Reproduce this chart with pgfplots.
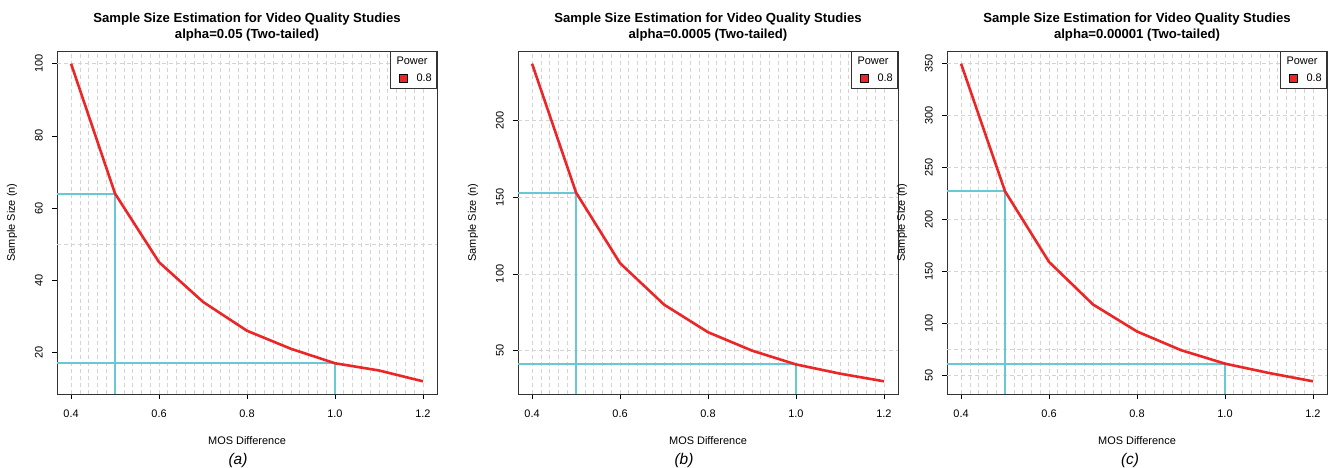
\documentclass[border=0pt]{standalone}
\usepackage{fontspec}
\setmainfont{Liberation Sans}
\usepackage{pgfplots}
\pgfplotsset{compat=1.18}
\definecolor{linered}{RGB}{236,38,38}
\definecolor{cyanl}{RGB}{104,200,214}
\definecolor{gridc}{RGB}{212,212,212}

\pgfplotsset{ssstyle/.style={
  width=380bp, height=343bp, scale only axis,
  anchor=south west,
  xmin=0.368, xmax=1.232,
  xtick={0.4,0.6,0.8,1.0,1.2},
  minor x tick num=9,
  xmajorgrids, xminorgrids,
  major grid style={gridc, dash pattern=on 4bp off 3bp, line width=0.7bp},
  minor grid style={gridc, dash pattern=on 4bp off 3bp, line width=0.7bp},
  minor tick length=0pt,
  tick align=outside, major tick length=5bp,
  tick style={black, line width=0.6bp},
  xtick pos=left, ytick pos=left,
  axis line style={black!80, line width=0.8bp},
  /pgf/number format/assume math mode=true,
  tick label style={font=\fontsize{11}{13}\selectfont},
  x tick label style={/pgf/number format/fixed, /pgf/number format/fixed zerofill, /pgf/number format/precision=1, anchor=north, inner sep=0pt},
  y tick label style={rotate=90, anchor=south, inner sep=0pt},
  xticklabel shift=11bp,
  yticklabel shift=9bp,
  extra y tick labels={},
  extra y tick style={grid=major, major tick length=0pt},
  title style={font=\bfseries\fontsize{13.2}{16}\selectfont, align=center, at={(axis description cs:0.5,1)}, anchor=south, inner sep=0pt, yshift=3.5bp},
  label style={font=\fontsize{11}{13}\selectfont},
  xlabel={MOS Difference},
  ylabel={Sample Size (n)},
  xlabel style={at={([yshift=-47bp]axis description cs:0.5,0)}, anchor=center},
  ylabel style={at={([xshift=-45bp]axis description cs:0,0.5)}, anchor=center},
  legend style={at={(axis description cs:1,1)}, anchor=north east, draw=black!80, line width=0.8bp,
     font=\fontsize{11}{13}\selectfont, inner xsep=9bp, inner ysep=6bp, row sep=7bp, column sep=9bp,
     nodes={inner sep=0pt}, cells={anchor=west}},
  legend image code/.code={\draw[fill=linered, draw=black, line width=0.6bp] (0bp,-4bp) rectangle (8bp,4bp);},
}}

\begin{document}
\begin{tikzpicture}
\path[use as bounding box] (0,0) rectangle (1330bp,468bp);

% ---------- (a)
\begin{axis}[ssstyle, at={(57bp,74bp)},
  ymin=8.48, ymax=103.52, ytick={20,40,60,80,100},
  extra y ticks={50,100},
  title={Sample Size Estimation for Video Quality Studies\\alpha=0.05 (Two-tailed)}]
\addplot[cyanl, line width=2bp, forget plot] coordinates {(0.368,64)(0.5,64)(0.5,8.48)};
\addplot[cyanl, line width=2bp, forget plot] coordinates {(0.368,17)(1.0,17)(1.0,8.48)};
\addlegendimage{empty legend}
\addlegendentry{\hspace*{-20bp}Power}
\addplot[linered, line width=2.6bp, line join=round] coordinates {
(0.4,100)(0.5,64)(0.6,45)(0.7,34)(0.8,26)(0.9,21)(1.0,17)(1.1,15)(1.2,12)};
\addlegendentry{0.8\hspace*{-4.5bp}}
\end{axis}

% ---------- (b)
\begin{axis}[ssstyle, at={(518bp,74bp)},
  ymin=21.72, ymax=245.28, ytick={50,100,150,200},
  extra y ticks={50,100,150,200},
  title={Sample Size Estimation for Video Quality Studies\\alpha=0.0005 (Two-tailed)}]
\addplot[cyanl, line width=2bp, forget plot] coordinates {(0.368,153)(0.5,153)(0.5,21.72)};
\addplot[cyanl, line width=2bp, forget plot] coordinates {(0.368,41)(1.0,41)(1.0,21.72)};
\addlegendimage{empty legend}
\addlegendentry{\hspace*{-20bp}Power}
\addplot[linered, line width=2.6bp, line join=round] coordinates {
(0.4,237)(0.5,153)(0.6,107)(0.7,80)(0.8,62)(0.9,50)(1.0,41)(1.1,35)(1.2,30)};
\addlegendentry{0.8\hspace*{-4.5bp}}
\end{axis}

% ---------- (c)
\begin{axis}[ssstyle, at={(947bp,74bp)},
  ymin=31.76, ymax=362.24, ytick={50,100,150,200,250,300,350},
  extra y ticks={50,75,100,150,200,250,300,350},
  title={Sample Size Estimation for Video Quality Studies\\alpha=0.00001 (Two-tailed)}]
\addplot[cyanl, line width=2bp, forget plot] coordinates {(0.368,227)(0.5,227)(0.5,31.76)};
\addplot[cyanl, line width=2bp, forget plot] coordinates {(0.368,61)(1.0,61)(1.0,31.76)};
\addlegendimage{empty legend}
\addlegendentry{\hspace*{-20bp}Power}
\addplot[linered, line width=2.6bp, line join=round] coordinates {
(0.4,350)(0.5,227)(0.6,159)(0.7,118)(0.8,92)(0.9,74)(1.0,61)(1.1,52)(1.2,44)};
\addlegendentry{0.8\hspace*{-4.5bp}}
\end{axis}

\node[font=\fontsize{15.5}{18}\selectfont\itshape] at (238bp,7bp) {(a)};
\node[font=\fontsize{15.5}{18}\selectfont\itshape] at (684bp,7bp) {(b)};
\node[font=\fontsize{15.5}{18}\selectfont\itshape] at (1130bp,7bp) {(c)};
\end{tikzpicture}
\end{document}
